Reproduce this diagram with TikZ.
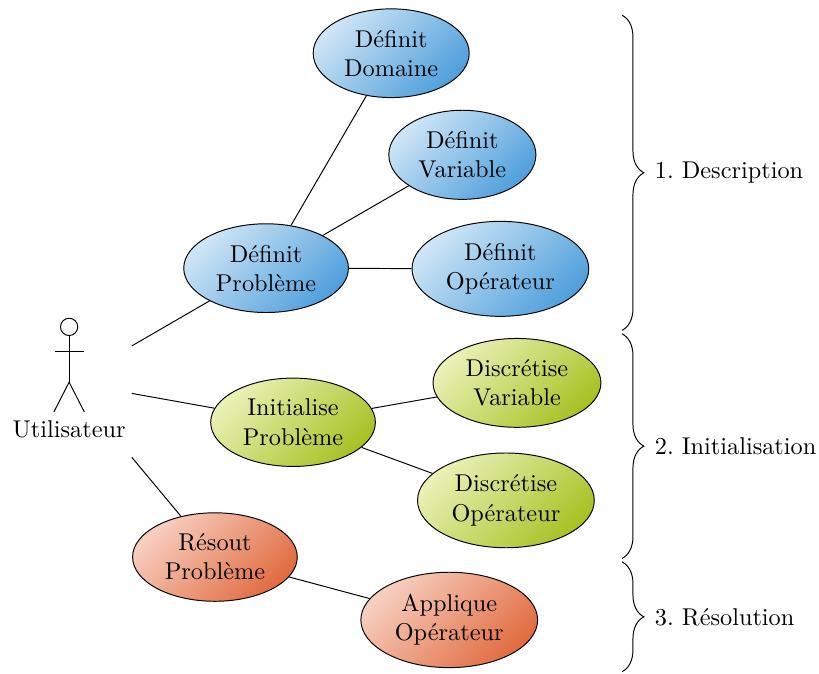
\documentclass[tikz,border=0pt]{standalone}
\usetikzlibrary{shapes.geometric,decorations.pathreplacing}
\frenchspacing
\definecolor{bleuC}{RGB}{206,229,246}
\definecolor{bleuF}{RGB}{80,160,220}
\definecolor{vertC}{RGB}{233,241,182}
\definecolor{vertF}{RGB}{168,194,36}
\definecolor{orangeC}{RGB}{247,207,192}
\definecolor{orangeF}{RGB}{225,108,64}
\tikzset{
	usecase/.style={ellipse,draw,align=center,shading angle=45},
	descr/.style={usecase,left color=bleuC,right color=bleuF,shading angle=45},
	init/.style={usecase,left color=vertC,right color=vertF,shading angle=45},
	resol/.style={usecase,left color=orangeC,right color=orangeF,shading angle=45},
	accolade/.style={decorate,decoration={brace,amplitude=9pt}}
}
\begin{document}
\begin{tikzpicture}
	\useasboundingbox (0,0) rectangle (11.85,-9.74);
	% acteur
	\node[minimum width=1.8cm,minimum height=2.8cm] (user) at (1.0,-5.53) {};
	\draw (1.0,-4.73) circle (0.125);
	\draw (1.0,-4.855) -- (1.0,-5.53);
	\draw (0.79,-5.09) -- (1.21,-5.09);
	\draw (0.78,-5.96) -- (1.0,-5.53) -- (1.22,-5.96);
	\node (userlbl) at (1.0,-6.21) {Utilisateur};
	% cas d'utilisation
	\node[descr] (defdom) at (5.66,-0.77) {Définit\\Domaine};
	\node[descr] (defvar) at (6.69,-2.24) {Définit\\Variable};
	\node[descr] (defpb) at (3.85,-3.88) {Définit\\Problème};
	\node[descr] (defop) at (7.24,-3.89) {Définit\\Opérateur};
	\node[init] (initpb) at (4.24,-6.11) {Initialise\\Problème};
	\node[init] (discvar) at (7.48,-5.54) {Discrétise\\Variable};
	\node[init] (discop) at (7.32,-7.24) {Discrétise\\Opérateur};
	\node[resol] (respb) at (3.11,-8.06) {Résout\\Problème};
	\node[resol] (appop) at (6.50,-8.97) {Applique\\Opérateur};
	% liens
	\draw (user) -- (defpb);
	\draw (user) -- (initpb);
	\draw (user) -- (respb);
	\draw (defpb) -- (defdom);
	\draw (defpb) -- (defvar);
	\draw (defpb) -- (defop);
	\draw (initpb) -- (discvar);
	\draw (initpb) -- (discop);
	\draw (respb) -- (appop);
	% etapes
	\draw[accolade] (9.0,-0.22) -- (9.0,-4.78) node[midway,right,xshift=10pt]{1. Description};
	\draw[accolade] (9.0,-4.83) -- (9.0,-8.08) node[midway,right,xshift=10pt]{2. Initialisation};
	\draw[accolade] (9.0,-8.13) -- (9.0,-9.72) node[midway,right,xshift=10pt]{3. Résolution};
\end{tikzpicture}
\end{document}
